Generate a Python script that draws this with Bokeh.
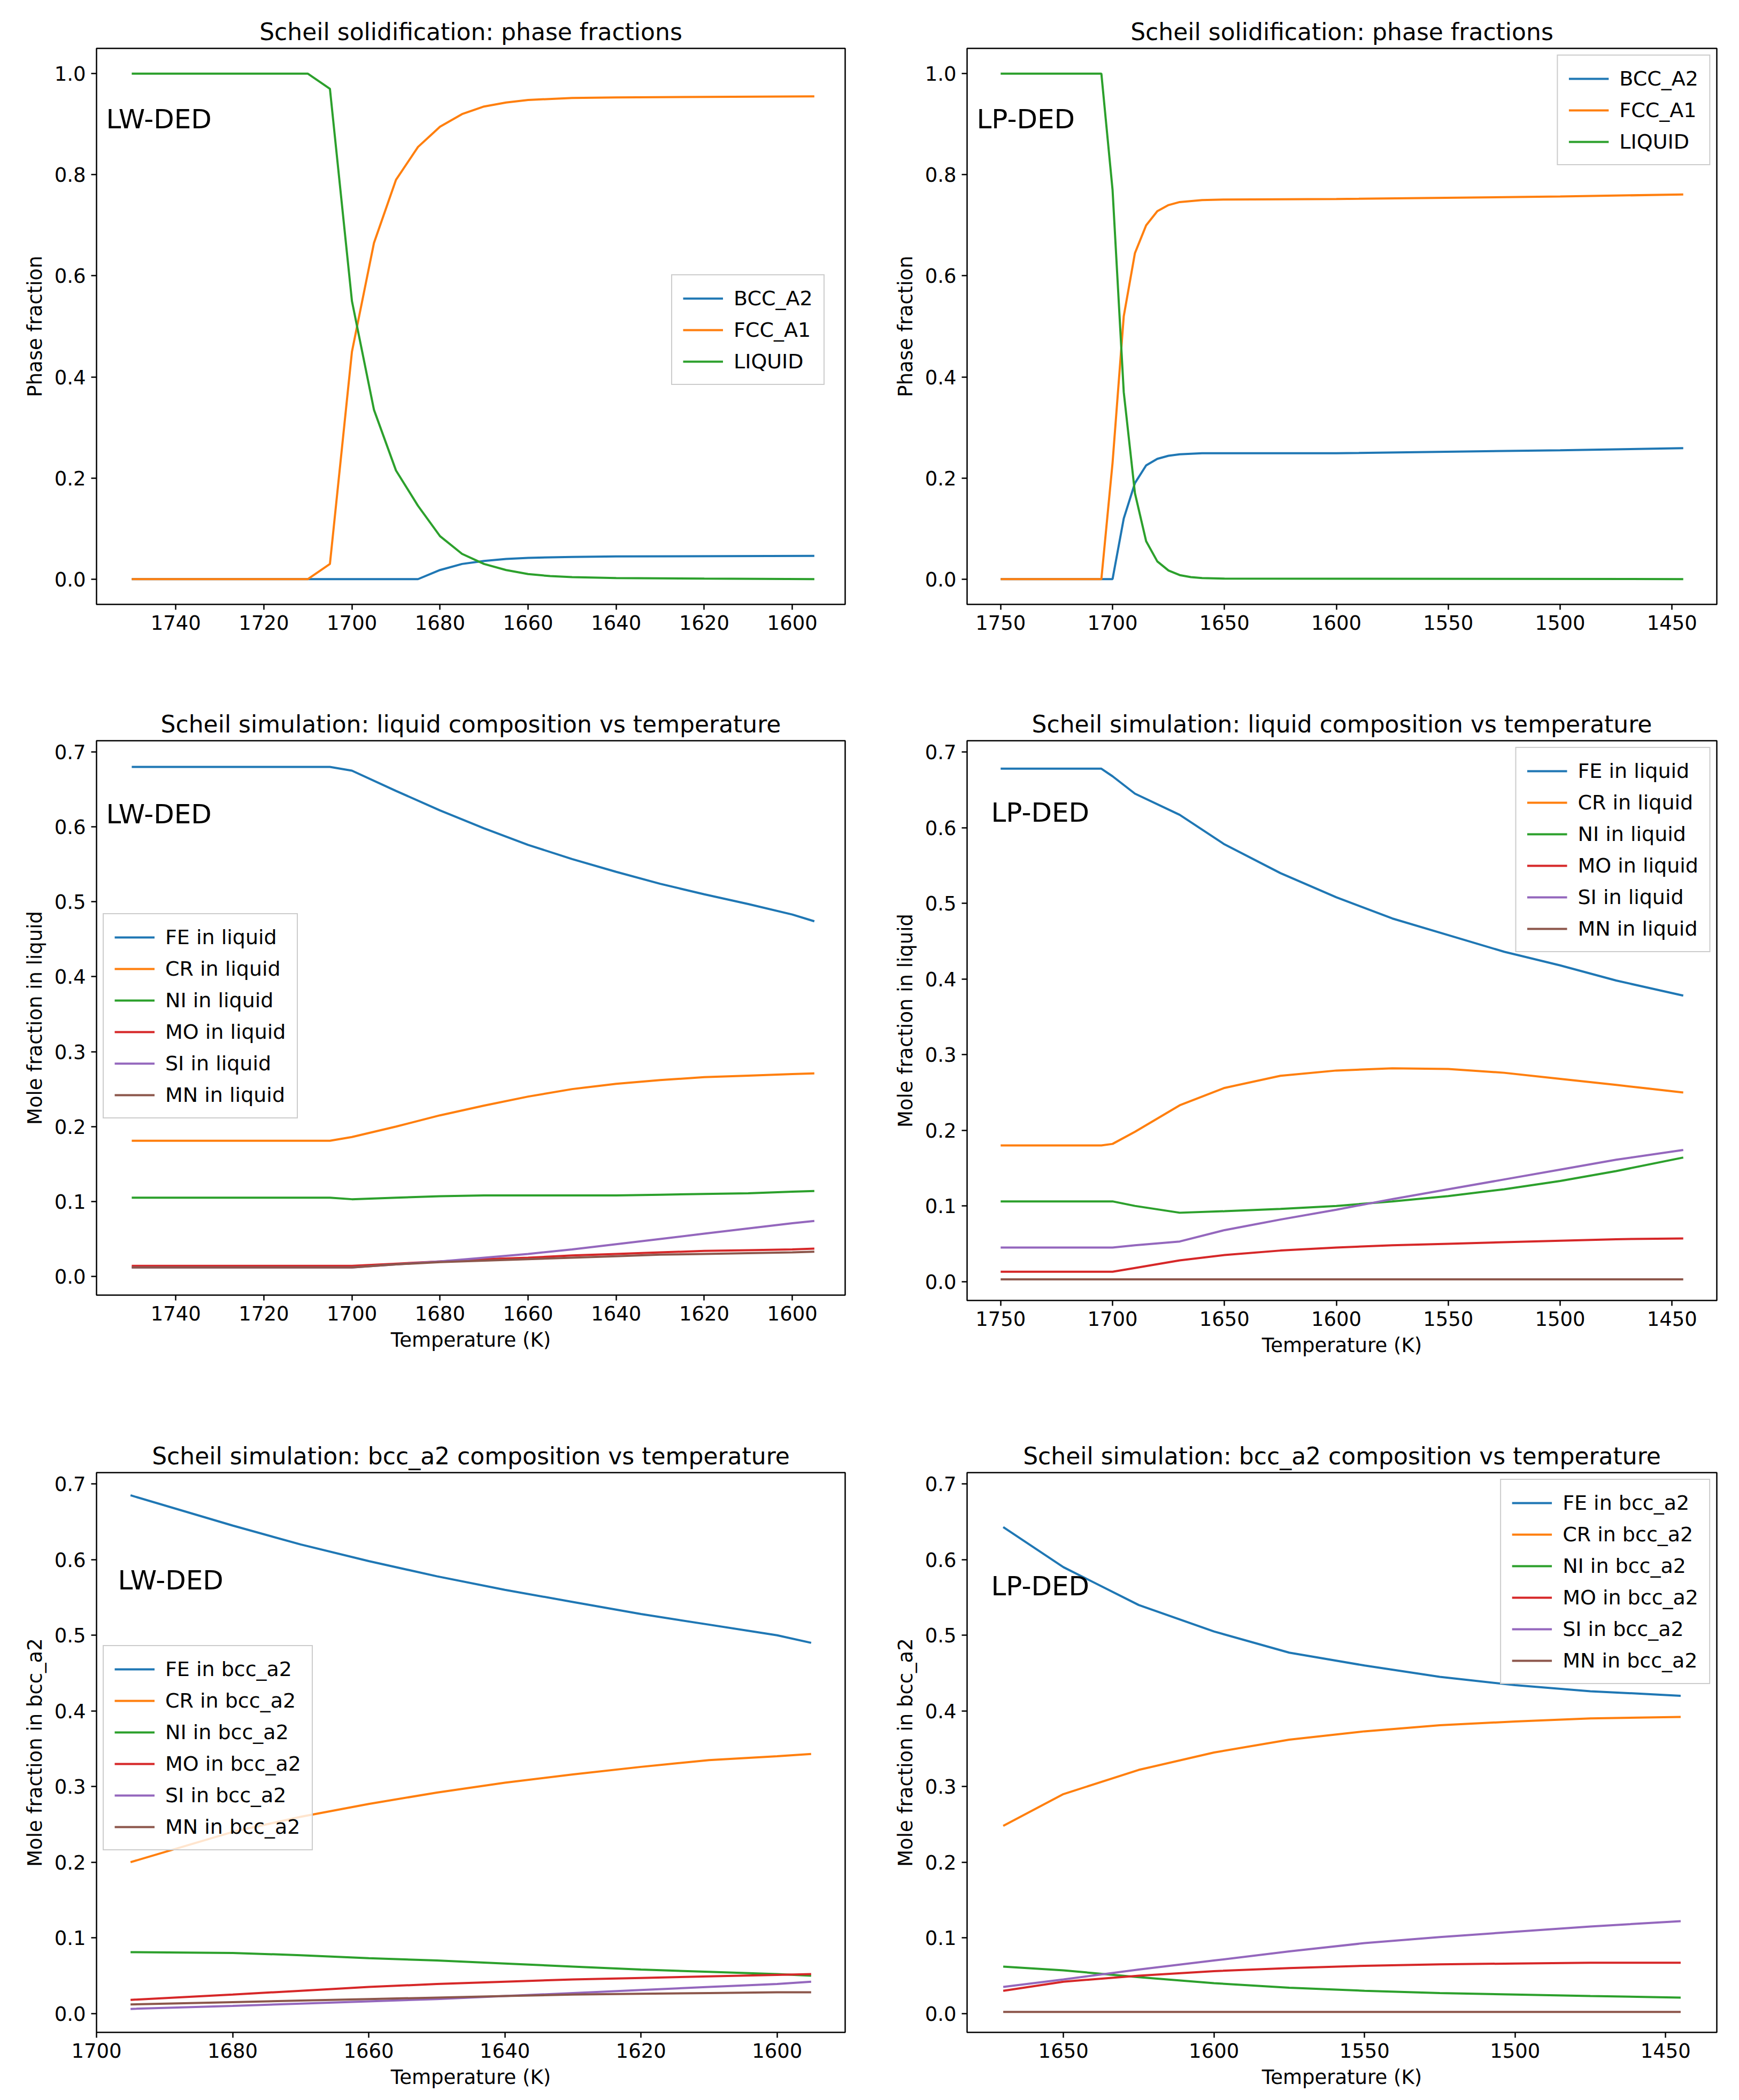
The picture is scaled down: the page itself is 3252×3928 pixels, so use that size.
from bokeh.plotting import figure
from bokeh.layouts import gridplot
from bokeh.models import Range1d, FixedTicker, Legend, LegendItem, Label, NumeralTickFormatter
from bokeh.embed import file_html
from bokeh.resources import INLINE

C = ["#1f77b4", "#ff7f0e", "#2ca02c", "#d62728", "#9467bd", "#8c564b"]
ELEM = ["FE", "CR", "NI", "MO", "SI", "MN"]

# Panel 1: LW-DED phase fractions
lw_ph_T_liq = [1750, 1710, 1705, 1700, 1695, 1690, 1685, 1680, 1675, 1670, 1665, 1660, 1655, 1650, 1640, 1620, 1595]
lw_liq = [1.0, 1.0, 0.97, 0.55, 0.335, 0.215, 0.145, 0.085, 0.05, 0.03, 0.018, 0.01, 0.006, 0.004, 0.002, 0.001, 0.0]
lw_ph_T_fcc = [1750, 1710, 1705, 1700, 1695, 1690, 1685, 1680, 1675, 1670, 1665, 1660, 1650, 1640, 1595]
lw_fcc = [0.0, 0.0, 0.03, 0.45, 0.665, 0.79, 0.855, 0.895, 0.92, 0.935, 0.943, 0.948, 0.952, 0.953, 0.955]
lw_ph_T_bcc = [1750, 1685, 1680, 1675, 1670, 1665, 1660, 1650, 1640, 1595]
lw_bcc = [0.0, 0.0, 0.018, 0.03, 0.036, 0.04, 0.042, 0.044, 0.045, 0.046]

# Panel 2: LP-DED phase fractions
lp_ph_T_liq = [1750, 1705, 1700, 1695, 1690, 1685, 1680, 1675, 1670, 1665, 1660, 1650, 1445]
lp_liq = [1.0, 1.0, 0.77, 0.37, 0.17, 0.075, 0.035, 0.017, 0.008, 0.004, 0.002, 0.001, 0.0]
lp_ph_T_fcc = [1750, 1705, 1700, 1695, 1690, 1685, 1680, 1675, 1670, 1660, 1650, 1600, 1500, 1445]
lp_fcc = [0.0, 0.0, 0.23, 0.52, 0.645, 0.70, 0.728, 0.74, 0.746, 0.75, 0.751, 0.752, 0.757, 0.761]
lp_ph_T_bcc = [1750, 1700, 1695, 1690, 1685, 1680, 1675, 1670, 1660, 1600, 1500, 1445]
lp_bcc = [0.0, 0.0, 0.12, 0.19, 0.225, 0.238, 0.244, 0.247, 0.249, 0.249, 0.255, 0.259]

# Panel 3: LW-DED liquid composition
lw_lq_T = [1750, 1705, 1700, 1690, 1680, 1670, 1660, 1650, 1640, 1630, 1620, 1610, 1600, 1595]
lw_lq = {
    "FE": [0.68, 0.68, 0.675, 0.648, 0.622, 0.598, 0.576, 0.557, 0.54, 0.524, 0.51, 0.497, 0.483, 0.474],
    "CR": [0.181, 0.181, 0.186, 0.20, 0.215, 0.228, 0.24, 0.25, 0.257, 0.262, 0.266, 0.268, 0.27, 0.271],
    "NI": [0.105, 0.105, 0.103, 0.105, 0.107, 0.108, 0.108, 0.108, 0.108, 0.109, 0.110, 0.111, 0.113, 0.114],
    "MO": [0.014, 0.014, 0.014, 0.017, 0.02, 0.023, 0.025, 0.028, 0.030, 0.032, 0.034, 0.035, 0.036, 0.037],
    "SI": [0.012, 0.012, 0.012, 0.016, 0.02, 0.025, 0.030, 0.036, 0.043, 0.05, 0.057, 0.064, 0.071, 0.074],
    "MN": [0.012, 0.012, 0.012, 0.016, 0.019, 0.021, 0.023, 0.025, 0.027, 0.029, 0.030, 0.031, 0.032, 0.033],
}

# Panel 4: LP-DED liquid composition
lp_lq_T = [1750, 1705, 1700, 1690, 1670, 1650, 1625, 1600, 1575, 1550, 1525, 1500, 1475, 1445]
lp_lq = {
    "FE": [0.678, 0.678, 0.668, 0.645, 0.617, 0.578, 0.54, 0.508, 0.48, 0.458, 0.436, 0.418, 0.398, 0.378],
    "CR": [0.18, 0.18, 0.182, 0.198, 0.233, 0.256, 0.272, 0.279, 0.282, 0.281, 0.276, 0.268, 0.26, 0.25],
    "NI": [0.106, 0.106, 0.106, 0.10, 0.091, 0.093, 0.096, 0.10, 0.106, 0.113, 0.122, 0.133, 0.146, 0.164],
    "MO": [0.013, 0.013, 0.013, 0.018, 0.028, 0.035, 0.041, 0.045, 0.048, 0.05, 0.052, 0.054, 0.056, 0.057],
    "SI": [0.045, 0.045, 0.045, 0.048, 0.053, 0.068, 0.082, 0.095, 0.109, 0.122, 0.135, 0.148, 0.161, 0.174],
    "MN": [0.003] * 14,
}

# Panel 5: LW-DED bcc_a2 composition
lw_bc_T = [1695, 1680, 1670, 1660, 1650, 1640, 1630, 1620, 1610, 1600, 1595]
lw_bc = {
    "FE": [0.685, 0.645, 0.62, 0.598, 0.578, 0.56, 0.544, 0.528, 0.514, 0.50, 0.49],
    "CR": [0.20, 0.24, 0.26, 0.277, 0.292, 0.305, 0.316, 0.326, 0.335, 0.34, 0.343],
    "NI": [0.081, 0.08, 0.077, 0.073, 0.07, 0.066, 0.062, 0.058, 0.055, 0.052, 0.05],
    "MO": [0.018, 0.025, 0.030, 0.035, 0.039, 0.042, 0.045, 0.047, 0.049, 0.051, 0.052],
    "SI": [0.006, 0.010, 0.013, 0.016, 0.019, 0.023, 0.027, 0.031, 0.035, 0.039, 0.042],
    "MN": [0.012, 0.015, 0.017, 0.019, 0.021, 0.023, 0.025, 0.026, 0.027, 0.028, 0.028],
}

# Panel 6: LP-DED bcc_a2 composition
lp_bc_T = [1670, 1650, 1625, 1600, 1575, 1550, 1525, 1500, 1475, 1445]
lp_bc = {
    "FE": [0.643, 0.59, 0.54, 0.505, 0.477, 0.46, 0.445, 0.434, 0.426, 0.42],
    "CR": [0.248, 0.29, 0.322, 0.345, 0.362, 0.373, 0.381, 0.386, 0.39, 0.392],
    "NI": [0.062, 0.057, 0.048, 0.04, 0.034, 0.03, 0.027, 0.025, 0.023, 0.021],
    "MO": [0.03, 0.042, 0.05, 0.056, 0.06, 0.063, 0.065, 0.066, 0.067, 0.067],
    "SI": [0.035, 0.045, 0.058, 0.07, 0.082, 0.093, 0.101, 0.108, 0.115, 0.122],
    "MN": [0.002] * 10,
}

FONT = "DejaVu Sans"
LW = 4
FIG_W = 1616


def make_fig(title, xr, yr, xticks, yticks, ylabel, xlabel, left, top, fw, fh, height):
    p = figure(width=FIG_W, height=height, output_backend="svg", toolbar_location=None,
               x_range=Range1d(*xr), y_range=Range1d(*yr),
               min_border_left=left, min_border_top=top, min_border_right=FIG_W - left - fw,
               min_border_bottom=height - top - fh,
               frame_width=fw, frame_height=fh)
    p.title.text = title
    p.title.align = "center"
    p.title.text_font = FONT
    p.title.text_font_size = "44px"
    p.title.text_font_style = "normal"
    p.title.text_color = "black"
    p.title.offset = 0
    p.title.standoff = 12
    p.outline_line_color = "black"
    p.outline_line_width = 2.5
    p.xgrid.visible = False
    p.ygrid.visible = False
    for ax in (p.xaxis[0], p.yaxis[0]):
        ax.axis_line_color = None
        ax.major_tick_out = 10
        ax.major_tick_in = 0
        ax.major_tick_line_width = 2.5
        ax.minor_tick_line_color = None
        ax.major_label_text_font = FONT
        ax.major_label_text_font_size = "37px"
        ax.major_label_text_color = "black"
        ax.major_label_standoff = 10
        ax.axis_label_text_font = FONT
        ax.axis_label_text_font_size = "37px"
        ax.axis_label_text_font_style = "normal"
        ax.axis_label_text_color = "black"
        ax.axis_label_standoff = 12
    p.xaxis.ticker = FixedTicker(ticks=xticks)
    p.yaxis.ticker = FixedTicker(ticks=yticks)
    p.yaxis.formatter = NumeralTickFormatter(format="0.0")
    p.yaxis.axis_label = ylabel
    if xlabel:
        p.xaxis.axis_label = xlabel
    return p


def add_legend(p, items, loc):
    lg = Legend(items=items, location=loc, label_text_font=FONT, label_text_font_size="38px",
                label_text_color="black", label_standoff=20,
                glyph_width=75, glyph_height=30, label_height=45, spacing=14, padding=20,
                border_line_color="#cccccc", border_line_width=2, border_line_alpha=1,
                background_fill_alpha=0.8, margin=12)
    p.add_layout(lg)


def add_tag(p, text, x, y):
    p.add_layout(Label(x=x, y=y, x_units="screen", y_units="screen", text=text,
                       text_font=FONT, text_font_size="50px", text_baseline="top",
                       text_color="black"))


T1 = [1740, 1720, 1700, 1680, 1660, 1640, 1620, 1600]
T2 = [1750, 1700, 1650, 1600, 1550, 1500, 1450]
Y1 = [0.0, 0.2, 0.4, 0.6, 0.8, 1.0]
Y2 = [0.0, 0.1, 0.2, 0.3, 0.4, 0.5, 0.6, 0.7]

H1, H2, H3 = 1320, 1310, 1280

# Row 1
p1 = make_fig("Scheil solidification: phase fractions", (1758, 1588), (-0.05, 1.05), T1, Y1,
              "Phase fraction", None, 180, 90, 1400, 1040, H1)
r = [p1.line(lw_ph_T_bcc, lw_bcc, color=C[0], line_width=LW),
     p1.line(lw_ph_T_fcc, lw_fcc, color=C[1], line_width=LW),
     p1.line(lw_ph_T_liq, lw_liq, color=C[2], line_width=LW)]
add_legend(p1, [LegendItem(label=l, renderers=[g]) for l, g in zip(["BCC_A2", "FCC_A1", "LIQUID"], r)], (1075, 410))
add_tag(p1, "LW-DED", 18, 937)

p2 = make_fig("Scheil solidification: phase fractions", (1765, 1430), (-0.05, 1.05), T2, Y1,
              "Phase fraction", None, 192, 90, 1402, 1040, H1)
r = [p2.line(lp_ph_T_bcc, lp_bcc, color=C[0], line_width=LW),
     p2.line(lp_ph_T_fcc, lp_fcc, color=C[1], line_width=LW),
     p2.line(lp_ph_T_liq, lp_liq, color=C[2], line_width=LW)]
add_legend(p2, [LegendItem(label=l, renderers=[g]) for l, g in zip(["BCC_A2", "FCC_A1", "LIQUID"], r)], "top_right")
add_tag(p2, "LP-DED", 18, 937)


def comp_fig(title, xr, xticks, T, data, phase, left, top, fw, fh, height, loc):
    p = make_fig(title, xr, (-0.025, 0.715), xticks, Y2, "Mole fraction in " + phase,
                 "Temperature (K)", left, top, fw, fh, height)
    items = []
    for i, e in enumerate(ELEM):
        g = p.line(T, data[e], color=C[i], line_width=LW)
        items.append(LegendItem(label=f"{e} in {phase}", renderers=[g]))
    add_legend(p, items, loc)
    return p


p3 = comp_fig("Scheil simulation: liquid composition vs temperature", (1758, 1588), T1, lw_lq_T, lw_lq,
              "liquid", 180, 58, 1400, 1037, H2, (12, 330))
add_tag(p3, "LW-DED", 18, 929)
p4 = comp_fig("Scheil simulation: liquid composition vs temperature", (1765, 1430), T2, lp_lq_T, lp_lq,
              "liquid", 192, 53, 1402, 1047, H2, "top_right")
add_tag(p4, "LP-DED", 45, 942)
p5 = comp_fig("Scheil simulation: bcc_a2 composition vs temperature", (1700, 1590), [1700, 1680, 1660, 1640, 1620, 1600],
              lw_bc_T, lw_bc, "bcc_a2", 180, 103, 1400, 1047, H3, (12, 340))
add_tag(p5, "LW-DED", 40, 875)
p6 = comp_fig("Scheil simulation: bcc_a2 composition vs temperature", (1682, 1433), [1650, 1600, 1550, 1500, 1450],
              lp_bc_T, lp_bc, "bcc_a2", 192, 112, 1402, 1047, H3, "top_right")
add_tag(p6, "LP-DED", 45, 864)

grid = gridplot([[p1, p2], [p3, p4], [p5, p6]], toolbar_location=None)
open("out.html", "w").write(file_html(grid, INLINE))
